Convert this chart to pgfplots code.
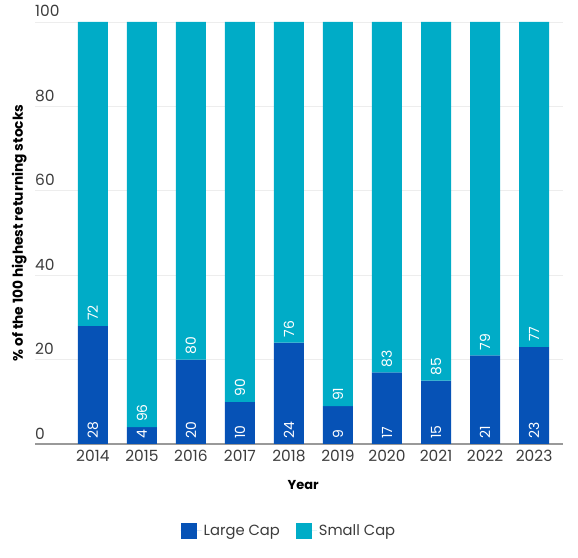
\documentclass[border=0pt]{standalone}
\usepackage{pgfplots}
\pgfplotsset{compat=1.18}
\usepackage{fontspec}
\setmainfont{Poppins}
\definecolor{largecap}{RGB}{6,82,182}
\definecolor{smallcap}{RGB}{0,172,199}
\definecolor{ticktext}{RGB}{60,60,60}

\begin{document}
\begin{tikzpicture}
\path[use as bounding box] (0,0) rectangle (578bp,558bp);
\begin{axis}[
  at={(35bp,114bp)}, anchor=south west,
  scale only axis, width=528bp, height=422bp,
  bar width=30bp,
  xmin=-1.18, xmax=9.59, ymin=0, ymax=100,
  xtick={0,...,9},
  xticklabels={2014,2015,2016,2017,2018,2019,2020,2021,2022,2023},
  ytick={0,20,40,60,80,100},
  /pgf/number format/assume math mode=true,
  axis x line*=bottom, axis y line*=left,
  y axis line style={draw=none},
  x axis line style={draw=black!40, line width=1.6bp, -},
  ymajorgrids, grid style={draw=black!7, line width=0.6bp},
  major tick length=0pt,
  tick label style={font=\fontsize{15.5}{18}\selectfont, text=ticktext},
  xticklabel style={yshift=-3bp},
  yticklabel style={anchor=base west, inner sep=0pt, xshift=0bp, yshift=5bp},
  xlabel={\textbf{Year}},
  xlabel style={font=\fontsize{13}{15}\selectfont, at={(axis description cs:0.508,-0.097)}, anchor=center},
  ylabel={\textbf{\% of the 100 highest returning stocks}},
  ylabel style={font=\fontsize{13.8}{16}\selectfont, at={(axis description cs:-0.03,0.50)}, anchor=center},
  legend style={draw=none, at={(axis description cs:0.481,-0.206)}, anchor=center,
    font=\fontsize{14.8}{17}\selectfont, text=ticktext,
    /tikz/every even column/.append style={column sep=14bp}},
  legend columns=2,
  sqlegend/.style={legend image code/.code={\fill[##1] (0bp,-8bp) rectangle (16bp,8bp); \path (0bp,0bp) -- (21bp,0bp);}},
  barlabel/.style={only marks, mark=none, forget plot, point meta=explicit symbolic,
    nodes near coords, nodes near coords style={rotate=90, anchor=west,
    text=white, inner xsep=5bp, font=\fontsize{14}{16}\selectfont}},
]
\addplot[ybar stacked, sqlegend, fill=largecap, draw=none] coordinates {
  (0,28) (1,4) (2,20) (3,10) (4,24) (5,9) (6,17) (7,15) (8,21) (9,23)};
\addplot[ybar stacked, sqlegend, fill=smallcap, draw=none] coordinates {
  (0,72) (1,96) (2,80) (3,90) (4,76) (5,91) (6,83) (7,85) (8,79) (9,77)};
\legend{Large Cap, Small Cap}
% labels at the foot of each segment
\addplot[barlabel, stack plots=false] coordinates {
  (0,0)[28] (1,0)[4] (2,0)[20] (3,0)[10] (4,0)[24] (5,0)[9] (6,0)[17] (7,0)[15] (8,0)[21] (9,0)[23]};
\addplot[barlabel, stack plots=false] coordinates {
  (0,28)[72] (1,4)[96] (2,20)[80] (3,10)[90] (4,24)[76] (5,9)[91] (6,17)[83] (7,15)[85] (8,21)[79] (9,23)[77]};
\end{axis}
\end{tikzpicture}
\end{document}
